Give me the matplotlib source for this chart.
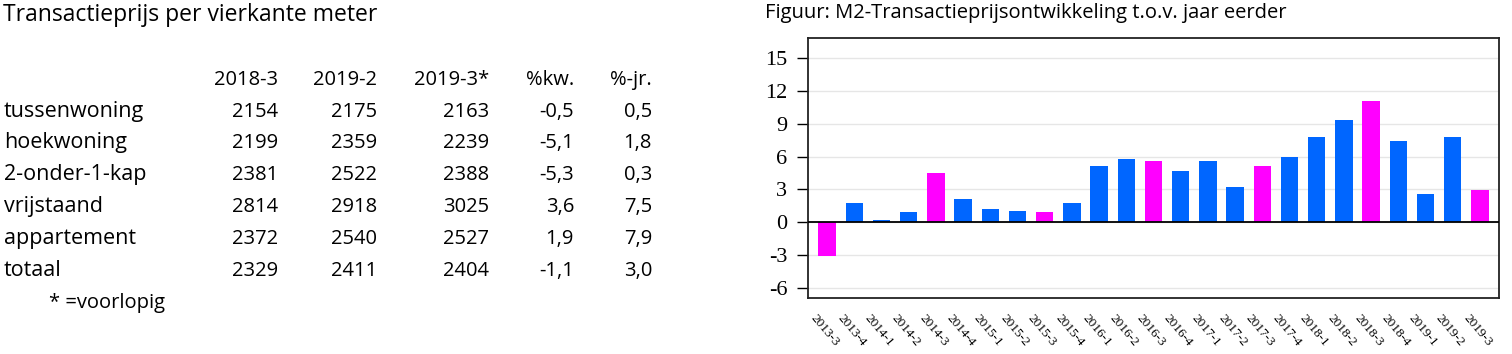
import matplotlib

matplotlib.use("Agg")
import matplotlib.pyplot as plt
import matplotlib.transforms as mtransforms

# table data
row_labels = ["tussenwoning", "hoekwoning", "2-onder-1-kap", "vrijstaand", "appartement", "totaal"]
col_labels = ["2018-3", "2019-2", "2019-3*", "%kw.", "%-jr."]
price_2018_3 = [2154, 2199, 2381, 2814, 2372, 2329]
price_2019_2 = [2175, 2359, 2522, 2918, 2540, 2411]
price_2019_3 = [2163, 2239, 2388, 3025, 2527, 2404]
pct_kw = [-0.5, -5.1, -5.3, 3.6, 1.9, -1.1]
pct_jr = [0.5, 1.8, 0.3, 7.5, 7.9, 3.0]

# chart data
quarters = [
    "2013-3", "2013-4", "2014-1", "2014-2", "2014-3", "2014-4",
    "2015-1", "2015-2", "2015-3", "2015-4", "2016-1", "2016-2",
    "2016-3", "2016-4", "2017-1", "2017-2", "2017-3", "2017-4",
    "2018-1", "2018-2", "2018-3", "2018-4", "2019-1", "2019-2", "2019-3",
]
change = [
    -3.1, 1.8, 0.2, 0.9, 4.5, 2.1,
    1.2, 1.0, 0.9, 1.8, 5.1, 5.8,
    5.6, 4.7, 5.6, 3.2, 5.1, 6.0,
    7.8, 9.3, 11.1, 7.4, 2.6, 7.8, 2.9,
]
yticks = [-6, -3, 0, 3, 6, 9, 12, 15]

W, H = 1512, 354
fig = plt.figure(figsize=(W / 100, H / 100), dpi=100)

SANS = "Open Sans"
SERIF = "Liberation Serif"
FS = 14.5


def px(x, y):
    return x / W, 1 - y / H


def fmt(v):
    return f"{v:.1f}".replace(".", ",")


# --- left table ---
fig.text(*px(3, 21), "Transactieprijs per vierkante meter", family=SANS, fontsize=16.5,
         ha="left", va="baseline")
col_right = [278, 377, 489, 574, 652]
for x, lab in zip(col_right, col_labels):
    fig.text(*px(x, 85), lab, family=SANS, fontsize=FS, ha="right", va="baseline")

row_base = [116.7, 148.3, 180, 211.7, 244, 276]
for i, lab in enumerate(row_labels):
    y = row_base[i]
    fig.text(*px(4, y), lab, family=SANS, fontsize=15.5, ha="left", va="baseline")
    vals = [str(price_2018_3[i]), str(price_2019_2[i]), str(price_2019_3[i]),
            fmt(pct_kw[i]), fmt(pct_jr[i])]
    for x, v in zip(col_right, vals):
        fig.text(*px(x, y), v, family=SANS, fontsize=FS, ha="right", va="baseline")
fig.text(*px(49, 308), "* =voorlopig", family=SANS, fontsize=FS, ha="left", va="baseline")

# --- right chart ---
fig.text(*px(765, 18), "Figuur: M2-Transactieprijsontwikkeling t.o.v. jaar eerder",
         family=SANS, fontsize=FS, ha="left", va="baseline")

ax = fig.add_axes([808 / W, (H - 298.3) / H, (1499 - 808) / W, (298.3 - 38.3) / H])
x = range(len(quarters))
colors = ["#ff00ff" if q.endswith("-3") else "#0066ff" for q in quarters]
ax.bar(x, change, width=0.64, color=colors, zorder=2)
ax.axhline(0, color="black", lw=1.3, zorder=3)
ax.set_xlim(-0.7, len(quarters) - 0.3)
ax.set_ylim(-6.95, 16.8)
ax.set_yticks(yticks)
ax.set_yticklabels([str(t) for t in yticks], family=SERIF, fontsize=16)
ax.yaxis.grid(True, color="#e6e6e6", lw=1, zorder=0)
ax.tick_params(axis="y", direction="out", length=8, width=1, pad=7)
ax.tick_params(axis="x", length=0, pad=10)
ax.set_xticks(list(x))
ax.set_xticklabels(quarters, family=SERIF, fontsize=9.5, rotation=-50,
                   ha="left", va="top", rotation_mode="anchor")
offset = mtransforms.ScaledTranslation(-10 / 100, 0, fig.dpi_scale_trans)
for lbl in ax.get_xticklabels():
    lbl.set_transform(lbl.get_transform() + offset)
for s in ax.spines.values():
    s.set_color("#222222")
    s.set_linewidth(1.3)

fig.savefig("out.png", dpi=100)
